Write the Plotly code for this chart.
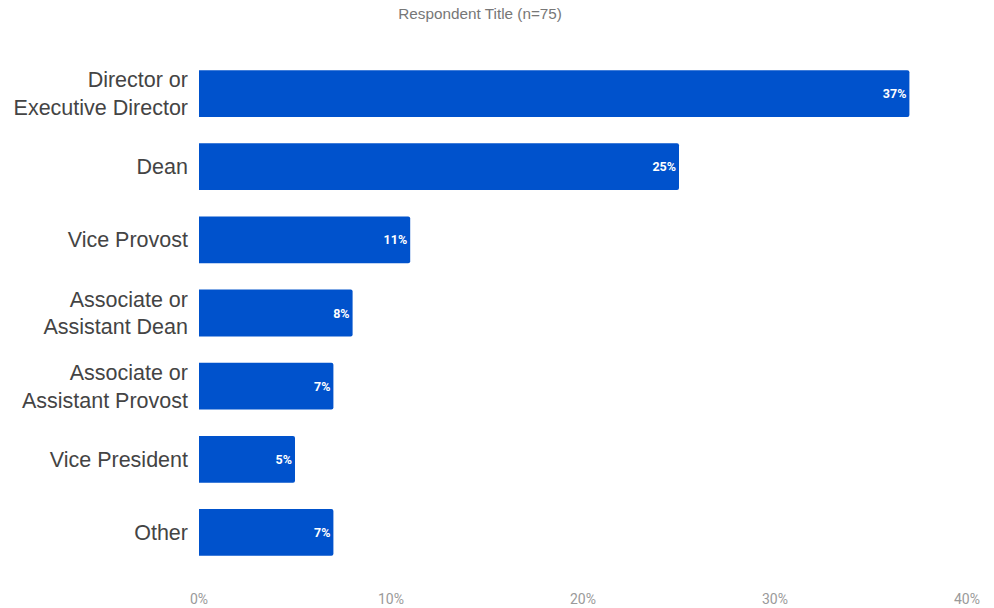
import plotly.graph_objects as go

# Respondent titles and their share of responses (%)
titles = [
    "Director or<br>Executive Director",
    "Dean",
    "Vice Provost",
    "Associate or<br>Assistant Dean",
    "Associate or<br>Assistant Provost",
    "Vice President",
    "Other",
]
shares = [37, 25, 11, 8, 7, 5, 7]
x_ticks = [0, 10, 20, 30, 40]
x_tick_labels = ["0%", "10%", "20%", "30%", "40%"]

fig = go.Figure(
    go.Bar(
        x=shares,
        y=titles,
        orientation="h",
        marker=dict(color="#0052CC", line=dict(width=0)),
        width=0.64,
        text=[f"{v}%" for v in shares],
        textposition="inside",
        insidetextanchor="end",
        textangle=0,
        textfont=dict(family="Roboto", size=12.5, color="white", weight="bold"),
        hoverinfo="skip",
    )
)

fig.update_layout(
    width=994,
    height=608,
    margin=dict(l=199, r=27, t=57, b=39),
    paper_bgcolor="white",
    plot_bgcolor="white",
    barcornerradius=2,
    showlegend=False,
    title=dict(
        text="Respondent Title (n=75)",
        x=0.483,
        xanchor="center",
        y=0.978,
        yanchor="middle",
        font=dict(family="Liberation Sans, Arial", size=15.3, color="#777777"),
    ),
    xaxis=dict(
        range=[0, 40],
        tickvals=x_ticks,
        ticktext=x_tick_labels,
        showgrid=False,
        zeroline=False,
        showline=False,
        ticks="",
        tickfont=dict(family="Roboto", size=14, color="#9a9a9a"),
        ticklabelstandoff=20,
        automargin=False,
        fixedrange=True,
    ),
    yaxis=dict(
        categoryorder="array",
        categoryarray=titles,
        autorange="reversed",
        showgrid=False,
        zeroline=False,
        showline=False,
        ticks="",
        tickfont=dict(family="Liberation Sans, Arial", size=21.5, color="#444444"),
        ticklabelstandoff=10,
        automargin=False,
        fixedrange=True,
    ),
)

fig.write_html("out.html")
